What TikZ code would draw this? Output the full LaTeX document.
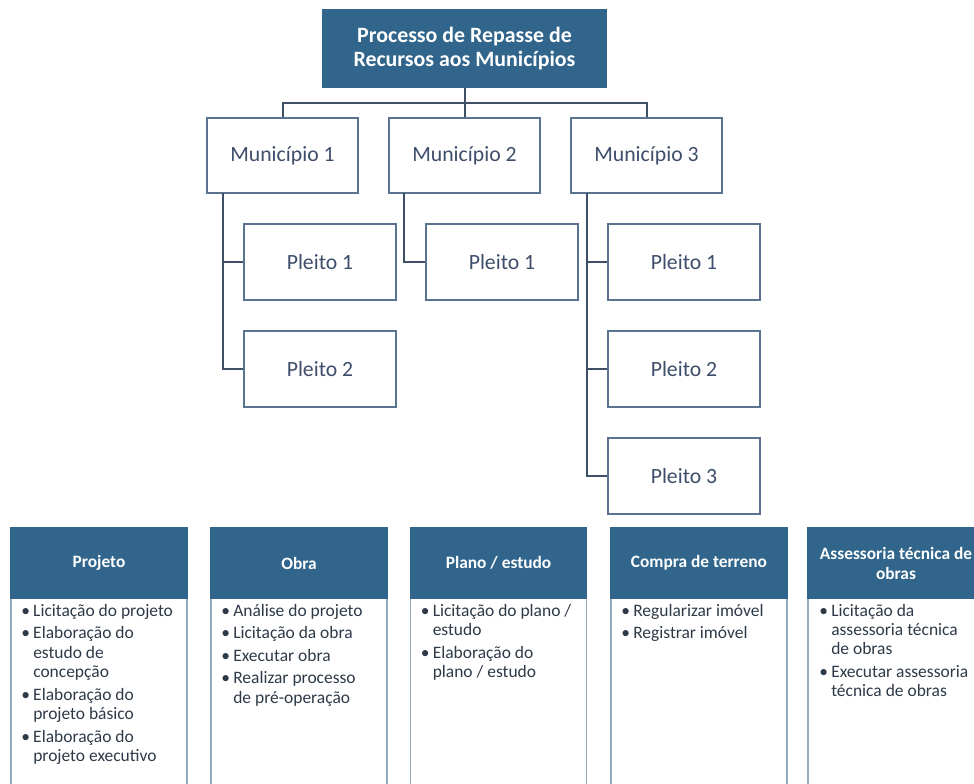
\documentclass[tikz,border=0pt]{standalone}
\usepackage{fontspec}
\setmainfont{Carlito}
\definecolor{hdr}{HTML}{31658B}
\definecolor{boxc}{HTML}{5A7391}
\definecolor{connc}{HTML}{3E4F66}
\definecolor{txtc}{HTML}{3E4E6A}
\definecolor{bodyc}{HTML}{93AABF}
\definecolor{bodytxt}{HTML}{2E3A48}
\newcommand\blist[1]{\begin{tabular}[t]{@{}l@{}l@{}}#1\end{tabular}}
\newcommand\bu{\makebox[9pt][l]{\textbullet}}
\begin{document}
\begin{tikzpicture}[x=0.75pt,y=-0.75pt,
  topbox/.style={draw=hdr,fill=hdr,text=white,line width=1.2pt,align=center,
    font=\bfseries\fontsize{16.4}{18.5}\selectfont,minimum width=212.25pt,minimum height=57.75pt,inner sep=0pt},
  munbox/.style={draw=boxc,fill=white,text=txtc,line width=1.5pt,
    font=\fontsize{16.3}{19}\selectfont,minimum width=113.25pt,minimum height=56.25pt,inner sep=0pt},
  plbox/.style={munbox,minimum width=114pt,minimum height=57pt},
  head/.style={draw=hdr,fill=hdr,text=white,line width=1pt,align=center,
    font=\bfseries\fontsize{13}{15}\selectfont,minimum width=132pt,minimum height=52.5pt,inner sep=0pt},
  body/.style={draw=bodyc,fill=white,line width=1.1pt,minimum width=132pt,minimum height=151.5pt,inner sep=0pt},
  blst/.style={anchor=base west,inner sep=0pt,text=bodytxt,align=left,
    font=\fontsize{13.1}{14.6}\selectfont},
  conn/.style={draw=connc,line width=1.5pt}]
\useasboundingbox (0,0) rectangle (974,783);
\clip (0,0) rectangle (974,783);
\fill[white] (0,0) rectangle (974,783);

% top
\node[topbox] (top) at (464.5,48.5) {Processo de Repasse de\\Recursos aos Municípios};
% municipios
\node[munbox] (M1) at (282.5,155.5) {Município 1};
\node[munbox] (M2) at (464.5,155.5) {Município 2};
\node[munbox] (M3) at (646.5,155.5) {Município 3};
% pleitos
\node[plbox] (P11) at (320,262) {Pleito 1};
\node[plbox] (P12) at (320,369) {Pleito 2};
\node[plbox] (P21) at (502,262) {Pleito 1};
\node[plbox] (P31) at (684,262) {Pleito 1};
\node[plbox] (P32) at (684,369) {Pleito 2};
\node[plbox] (P33) at (684,476) {Pleito 3};

% connectors
\coordinate (bar) at (464.5,103);
\draw[conn] (top.south) -- (M2.north);
\draw[conn] (M1.north) |- (bar) -| (M3.north);
\coordinate (m1s) at (223,193);
\coordinate (m2s) at (404,193);
\coordinate (m3s) at (587,193);
\draw[conn] (m1s) |- (P11.west);
\draw[conn] (m1s) |- (P12.west);
\draw[conn] (m2s) |- (P21.west);
\draw[conn] (m3s) |- (P31.west);
\draw[conn] (m3s) |- (P32.west);
\draw[conn] (m3s) |- (P33.west);

% bottom categories
\node[body] (B1) at (99,699) {};
\node[body] (B2) at (299,699) {};
\node[body] (B3) at (498.5,699) {};
\node[body] (B4) at (699,699) {};
\node[body] (B5) at (896,699) {};
\node[head] (H1) at (99,563) {Projeto};
\node[head] (H2) at (299,563) {Obra};
\node[head] (H3) at (498.5,563) {Plano / estudo};
\node[head] (H4) at (699,563) {Compra de terreno};
\node[head] (H5) at (896,563) {Assessoria técnica de\\obras};

\node[blst] (L1) at (21,616) {\blist{\bu & Licitação do projeto\\[2.3pt]
 \bu & Elaboração do\\ & estudo de\\ & concepção\\[2.3pt]
 \bu & Elaboração do\\ & projeto básico\\[2.3pt]
 \bu & Elaboração do\\ & projeto executivo}};
\node[blst] (L2) at (221,616) {\blist{\bu & Análise do projeto\\[2.3pt]
 \bu & Licitação da obra\\[2.3pt]
 \bu & Executar obra\\[2.3pt]
 \bu & Realizar processo\\ & de pré-operação}};
\node[blst] (L3) at (420.5,616) {\blist{\bu & Licitação do plano /\\ & estudo\\[2.3pt]
 \bu & Elaboração do\\ & plano / estudo}};
\node[blst] (L4) at (621,616) {\blist{\bu & Regularizar imóvel\\[2.3pt]
 \bu & Registrar imóvel}};
\node[blst] (L5) at (819,616) {\blist{\bu & Licitação da\\ & assessoria técnica\\ & de obras\\[2.3pt]
 \bu & Executar assessoria\\ & técnica de obras}};
\end{tikzpicture}
\end{document}
